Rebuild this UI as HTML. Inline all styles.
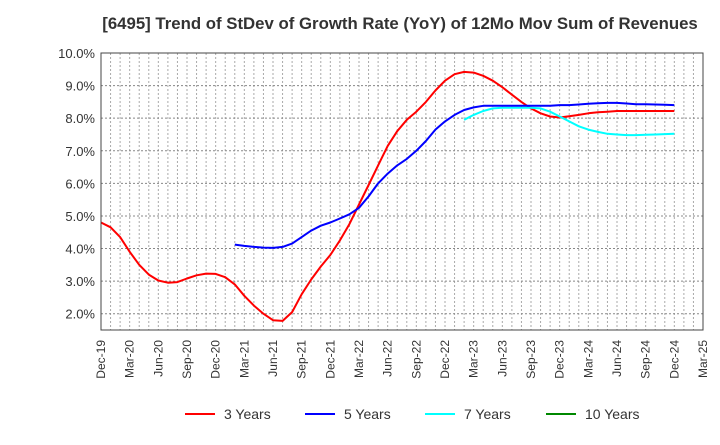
<!DOCTYPE html>
<html><head><meta charset="utf-8"><style>
body{margin:0;background:#fff;font-family:"Liberation Sans",Arial,sans-serif}
</style></head><body>
<svg id="chart" width="720" height="440" xmlns="http://www.w3.org/2000/svg" font-family="Liberation Sans, Arial, sans-serif">
<text x="400" y="29" text-anchor="middle" font-size="16.8" font-weight="bold" fill="#333">[6495]  Trend of StDev of Growth Rate (YoY) of 12Mo Mov Sum of Revenues</text>
<g id="grid"></g>
<g id="yaxis"></g>
<g id="xaxis"></g>
<g id="series"></g>
<rect x="101" y="53" width="602" height="277" fill="none" stroke="#444" stroke-width="1"/>
<g font-size="14" fill="#333">
<g><line x1="185" y1="414" x2="215" y2="414" stroke="#f00" stroke-width="2"/><text x="224" y="419">3 Years</text></g>
<g><line x1="305" y1="414" x2="335" y2="414" stroke="#00f" stroke-width="2"/><text x="344" y="419">5 Years</text></g>
<g><line x1="425" y1="414" x2="455" y2="414" stroke="#0ff" stroke-width="2"/><text x="464" y="419">7 Years</text></g>
<g><line x1="546" y1="414" x2="576" y2="414" stroke="#080" stroke-width="2"/><text x="585" y="419">10 Years</text></g>
</g>
</svg>
<script>
const xTickLabels=["Dec-19","Mar-20","Jun-20","Sep-20","Dec-20","Mar-21","Jun-21","Sep-21","Dec-21","Mar-22","Jun-22","Sep-22","Dec-22","Mar-23","Jun-23","Sep-23","Dec-23","Mar-24","Jun-24","Sep-24","Dec-24","Mar-25"];
const yTicks=[2,3,4,5,6,7,8,9,10];
const years3=[4.8,4.65,4.35,3.9,3.5,3.2,3.02,2.95,2.97,3.08,3.18,3.23,3.22,3.12,2.9,2.55,2.25,2.0,1.8,1.78,2.05,2.6,3.05,3.45,3.8,4.25,4.75,5.35,5.95,6.55,7.15,7.6,7.95,8.2,8.5,8.85,9.15,9.35,9.42,9.4,9.3,9.15,8.95,8.72,8.5,8.3,8.15,8.05,8.02,8.06,8.1,8.15,8.18,8.2,8.22,8.22,8.22,8.22,8.22,8.22,8.22];
const years5Start=14;
const years5=[4.12,4.08,4.05,4.03,4.02,4.05,4.15,4.35,4.55,4.7,4.8,4.92,5.05,5.25,5.6,6.0,6.3,6.55,6.75,7.0,7.3,7.65,7.9,8.1,8.25,8.33,8.38,8.38,8.38,8.38,8.38,8.38,8.38,8.38,8.4,8.4,8.42,8.44,8.46,8.47,8.47,8.45,8.43,8.43,8.42,8.41,8.4];
const years7Start=38;
const years7=[7.95,8.1,8.22,8.3,8.32,8.32,8.32,8.32,8.3,8.2,8.05,7.9,7.75,7.65,7.58,7.52,7.5,7.48,7.48,7.49,7.5,7.51,7.52];
const years10=[];
const NS="http://www.w3.org/2000/svg";
const L=101,R=703,T=53,B=330,months=63;
const xS=i=>L+(R-L)*i/months;
const yS=v=>B-(v-1.5)*(B-T)/8.5;
function mk(tag,attrs,parent){const e=document.createElementNS(NS,tag);for(const k in attrs)e.setAttribute(k,attrs[k]);parent.appendChild(e);return e;}
const grid=document.getElementById('grid'),ya=document.getElementById('yaxis'),xa=document.getElementById('xaxis'),ser=document.getElementById('series');
for(let i=1;i<months;i++){const l=mk('line',{x1:xS(i),x2:xS(i),y1:T,y2:B,stroke:'#aaa','stroke-width':1,'stroke-dasharray':'2,2'},grid);

}
yTicks.forEach(v=>{const l=mk('line',{x1:L,x2:R,y1:yS(v),y2:yS(v),stroke:'#888','stroke-width':1,'stroke-dasharray':'2,2'},grid);


const t=mk('text',{x:L-6,y:yS(v)+5,'text-anchor':'end','font-size':13,fill:'#333'},ya);t.textContent=v.toFixed(1)+'%';

});
xTickLabels.forEach((s,i)=>{const x=xS(i*3),y=336;const t=mk('text',{x:x,y:y,'text-anchor':'end','font-size':12,fill:'#333',transform:`rotate(-90 ${x+4} ${y})`},xa);t.textContent=s;

});
function line(vals,start,color,name){if(!vals.length)return;const p=vals.map((v,i)=>xS(start+i).toFixed(1)+','+yS(v).toFixed(1)).join(' ');
const e=mk('polyline',{points:p,fill:'none',stroke:color,'stroke-width':2,'stroke-linejoin':'round'},ser);

}
line(years3,0,'#f00','series-3-years');
line(years7,years7Start,'#0ff','series-7-years');
line(years5,years5Start,'#00f','series-5-years');
line(years10,0,'#080','series-10-years');
</script>
</body></html>
